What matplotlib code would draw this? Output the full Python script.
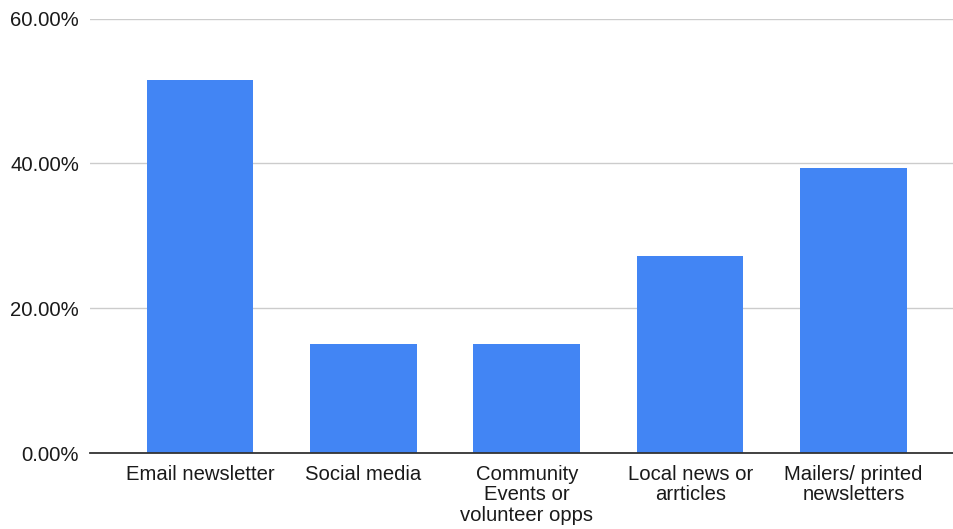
import matplotlib
matplotlib.use("Agg")
import matplotlib.pyplot as plt
from matplotlib.ticker import FuncFormatter

categories = ["Email newsletter", "Social media", "Community\nEvents or\nvolunteer opps",
              "Local news or\narrticles", "Mailers/ printed\nnewsletters"]
values = [51.52, 15.15, 15.15, 27.27, 39.39]
yticks = [0, 20, 40, 60]

plt.rcParams['font.family'] = ['Liberation Sans', 'DejaVu Sans']

W, H = 954, 529
fig = plt.figure(figsize=(W / 100, H / 100), dpi=100)
left = 90 / W
bottom = (H - 453.3) / H
top = (H - 18.5) / H
ax = fig.add_axes([left, bottom, 1.0 - left, top - bottom])

x = list(range(len(categories)))
ax.bar(x, values, width=0.652, color="#4285F4", zorder=3)

ax.set_ylim(0, 60)
ax.set_xlim(-0.673, 4.615)
ax.set_yticks(yticks)
ax.yaxis.set_major_formatter(FuncFormatter(lambda v, p: f"{v:.2f}%"))
ax.set_xticks(x)
ax.set_xticklabels(categories, linespacing=1.08)

ax.grid(axis="y", color="#cccccc", linewidth=1.0, zorder=0)
ax.set_axisbelow(True)
for s in ["top", "right", "left"]:
    ax.spines[s].set_visible(False)
ax.spines["bottom"].set_color("#333333")
ax.spines["bottom"].set_linewidth(1.3)
ax.spines["bottom"].set_zorder(4)

ax.tick_params(axis="both", length=0, labelsize=14.6, colors="#1a1a1a")
ax.tick_params(axis="y", pad=8)
ax.tick_params(axis="x", pad=8.5)

fig.savefig("out.png", dpi=100)
